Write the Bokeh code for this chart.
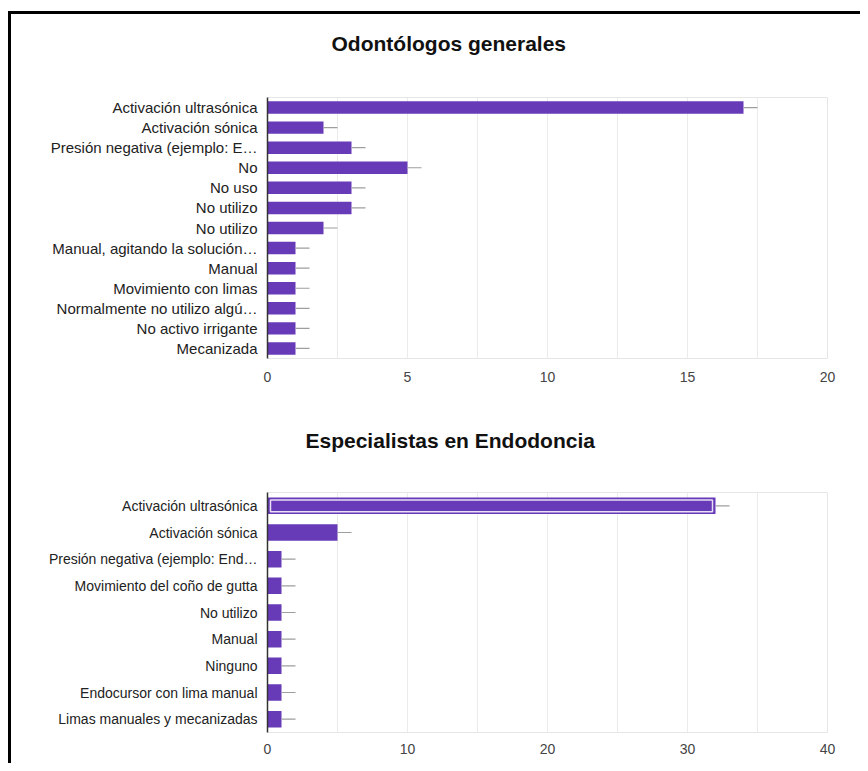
from bokeh.plotting import figure
from bokeh.layouts import column
from bokeh.models import Range1d, FixedTicker, SingleIntervalTicker, Title
from bokeh.embed import file_html
from bokeh.resources import INLINE

# ---- data ----
title_gen = "Odontólogos generales"
labels_gen = [
    "Activación ultrasónica",
    "Activación sónica",
    "Presión negativa (ejemplo: E…",
    "No",
    "No uso",
    "No utilizo",
    "No utilizo",
    "Manual, agitando la solución…",
    "Manual",
    "Movimiento con limas",
    "Normalmente no utilizo algú…",
    "No activo irrigante",
    "Mecanizada",
]
values_gen = [17, 2, 3, 5, 3, 3, 2, 1, 1, 1, 1, 1, 1]
xmax_gen = 20

title_esp = "Especialistas en Endodoncia"
labels_esp = [
    "Activación ultrasónica",
    "Activación sónica",
    "Presión negativa (ejemplo: End…",
    "Movimiento del coño de gutta",
    "No utilizo",
    "Manual",
    "Ninguno",
    "Endocursor con lima manual",
    "Limas manuales y mecanizadas",
]
values_esp = [32, 5, 1, 1, 1, 1, 1, 1, 1]
xmax_esp = 40
highlight_esp = 0

BAR = "#673ab7"
FONT = "Liberation Sans"


def make_chart(title, labels, values, xmax, tick_step, grid_step, whisker,
               height, above, below, label_size, bar_h, x_standoff, gap, t_offset,
               highlight=None):
    n = len(labels)
    ys = list(range(n))
    p = figure(width=849, height=height, output_backend="svg", toolbar_location=None,
               x_range=Range1d(0, xmax), y_range=Range1d(n - 0.5, -0.5),
               min_border_left=256, min_border_right=33,
               min_border_top=above, min_border_bottom=below,
               title=None)
    # blank spacer between the plot frame and the title
    p.add_layout(Title(text=".", text_font_size="2px", text_color="white",
                       standoff=gap), "above")
    t = Title(text=title, text_font=FONT, text_font_size="21px", text_font_style="bold",
              text_color="#111111", align="left", offset=t_offset, standoff=4)
    p.add_layout(t, "above")

    p.hbar(y=ys, right=values, left=0, height=bar_h, fill_color=BAR, line_color=None)
    p.segment(x0=values, y0=ys, x1=[v + whisker for v in values], y1=ys,
              line_color="#9e9e9e", line_width=1.2)
    if highlight is not None:
        v = values[highlight]
        inset = xmax / 560 * 3
        p.hbar(y=[ys[highlight]], left=[inset], right=[v - inset], height=bar_h * 0.72,
               fill_alpha=0, line_color="#e8e0f5", line_width=1.5)

    p.xaxis.ticker = SingleIntervalTicker(interval=tick_step)
    p.xgrid.ticker = SingleIntervalTicker(interval=grid_step)
    p.xgrid.grid_line_color = "#ebebeb"
    p.ygrid.grid_line_color = None
    p.xaxis.axis_line_color = None
    p.xaxis.major_tick_line_color = None
    p.xaxis.minor_tick_line_color = None
    p.xaxis.major_label_text_font = FONT
    p.xaxis.major_label_text_font_size = "14px"
    p.xaxis.major_label_text_color = "#444444"
    p.xaxis.major_label_standoff = x_standoff

    p.yaxis.ticker = FixedTicker(ticks=ys)
    p.yaxis.major_label_overrides = {i: lab for i, lab in zip(ys, labels)}
    p.yaxis.axis_line_color = "#333333"
    p.yaxis.axis_line_width = 1.5
    p.yaxis.major_tick_line_color = None
    p.yaxis.minor_tick_line_color = None
    p.yaxis.major_label_text_font = FONT
    p.yaxis.major_label_text_font_size = label_size
    p.yaxis.major_label_text_color = "#222222"
    p.yaxis.major_label_standoff = 4

    p.outline_line_color = "#e6e6e6"
    p.background_fill_color = "white"
    p.border_fill_color = "white"
    return p


p1 = make_chart(title_gen, labels_gen, values_gen, xmax_gen, 5, 2.5, 0.5,
                394, 83, 50, "15px", 0.62, 7, 38, 64)
p2 = make_chart(title_esp, labels_esp, values_esp, xmax_esp, 10, 5, 1.0,
                355, 84, 31, "14px", 0.62, 5, 36, 38, highlight=highlight_esp)

layout = column(p1, p2, spacing=0,
                styles={"border-top": "3px solid black", "border-left": "3px solid black",
                        "margin-top": "11px", "margin-left": "8px"})

open("out.html", "w").write(file_html(layout, INLINE))
